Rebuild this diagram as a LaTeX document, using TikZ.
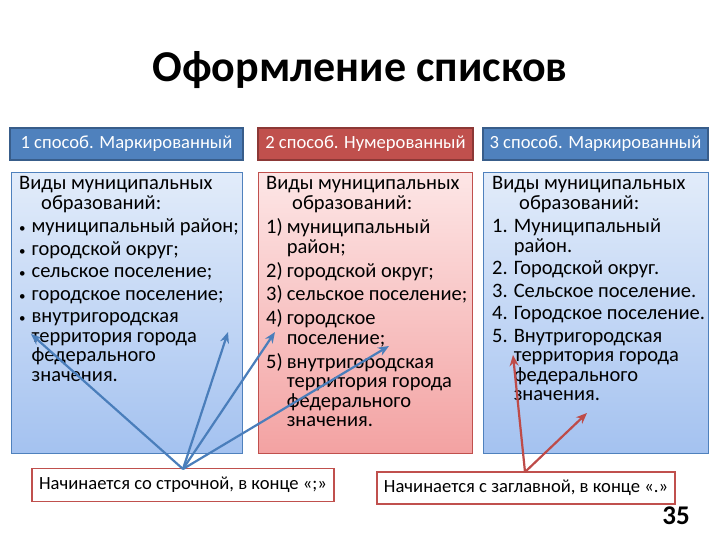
\documentclass[tikz,border=0pt]{standalone}
\usepackage{fontspec}
\setmainfont{Carlito}
\usetikzlibrary{arrows.meta}
\definecolor{hblue}{HTML}{4F81BD}
\definecolor{hbluedark}{HTML}{385D8A}
\definecolor{hred}{HTML}{C0504D}
\definecolor{hreddark}{HTML}{8C3836}
\definecolor{bltop}{HTML}{E2ECFA}
\definecolor{blbot}{HTML}{A4C2F0}
\definecolor{rdtop}{HTML}{FDE6E6}
\definecolor{rdbot}{HTML}{F3A2A2}
\definecolor{arrblue}{HTML}{4A7EBB}
\definecolor{arrred}{HTML}{BE4B48}
\newcommand{\sbul}{{\fontsize{13}{13}\selectfont\textbullet}}
\tikzset{
  hdr/.style={draw=#1, line width=1.5pt, minimum height=32pt, inner sep=0pt, text=white, font=\fontsize{18.6}{20}\selectfont},
  cbox/.style={draw=#1, line width=1pt},
  ctext/.style={anchor=north west, inner sep=0pt, align=left, font=\fontsize{20.5}{19.5}\selectfont},
  note/.style={draw=hred, line width=1.6pt, fill=white, inner sep=0pt, font=\fontsize{18.6}{20}\selectfont},
  barr/.style={draw=arrblue, line width=2.2pt, -{Stealth[length=11pt,width=9pt]}},
  rarr/.style={draw=arrred, line width=2.2pt, -{Stealth[length=11pt,width=9pt]}}
}
\begin{document}
\begin{tikzpicture}[x=1pt,y=-1pt]
\useasboundingbox (0,0) rectangle (720,540);
\node (title) at (360,70) {\fontsize{44}{48}\selectfont\bfseries Оформление списков};

\node[hdr=hbluedark, fill=hblue, minimum width=233pt] (h1) at (126.5,144) {1 способ. Маркированный};
\node[hdr=hreddark, fill=hred, minimum width=215pt] (h2) at (365.5,144) {2 способ. Нумерованный};
\node[hdr=hbluedark, fill=hblue, minimum width=225pt] (h3) at (595.5,144) {3 способ. Маркированный};

\shade[top color=bltop, bottom color=blbot] (11,173) rectangle (242,453);
\draw[cbox=hblue] (11,173) rectangle (242,453);
\shade[top color=rdtop, bottom color=rdbot] (258,173) rectangle (472,453);
\draw[cbox=hred] (258,173) rectangle (472,453);
\shade[top color=bltop, bottom color=blbot] (483,173) rectangle (708,453);
\draw[cbox=hblue] (483,173) rectangle (708,453);

\node[ctext] (t1) at (19,176) {%
\begin{tabular}{@{}l@{\hspace{6pt}}l@{}}
\multicolumn{2}{@{}l@{}}{Виды муниципальных}\\
\multicolumn{2}{@{}l@{}}{\hspace{22pt}образований:}\\[3pt]
\sbul & муниципальный район;\\[3pt]
\sbul & городской округ;\\[3pt]
\sbul & сельское поселение;\\[3pt]
\sbul & городское поселение;\\[3pt]
\sbul & внутригородская\\
 & территория города\\
 & федерального\\
 & значения.
\end{tabular}};

\node[ctext] (t2) at (266,176) {%
\begin{tabular}{@{}l@{\hspace{4pt}}l@{}}
\multicolumn{2}{@{}l@{}}{Виды муниципальных}\\
\multicolumn{2}{@{}l@{}}{\hspace{26pt}образований:}\\[3pt]
1) & муниципальный\\
 & район;\\[3pt]
2) & городской округ;\\[3pt]
3) & сельское поселение;\\[3pt]
4) & городское\\
 & поселение;\\[3pt]
5) & внутригородская\\
 & территория города\\
 & федерального\\
 & значения.
\end{tabular}};

\node[ctext] (t3) at (492,176) {%
\begin{tabular}{@{}l@{\hspace{6pt}}l@{}}
\multicolumn{2}{@{}l@{}}{Виды муниципальных}\\
\multicolumn{2}{@{}l@{}}{\hspace{27pt}образований:}\\[3pt]
1. & Муниципальный\\
 & район.\\[3pt]
2. & Городской округ.\\[3pt]
3. & Сельское поселение.\\[3pt]
4. & Городское поселение.\\[3pt]
5. & Внутригородская\\
 & территория города\\
 & федерального\\
 & значения.
\end{tabular}};

\node[note, minimum width=302pt, minimum height=33pt] (n1) at (183,485) {Начинается со строчной, в конце «;»};
\node[note, minimum width=298pt, minimum height=32pt] (n2) at (526,488) {Начинается с заглавной, в конце «.»};

\coordinate (b1) at (31,334);
\coordinate (b2) at (228,332);
\coordinate (b3) at (275,332);
\coordinate (b4) at (389,346);
\coordinate (r1) at (513,355);
\coordinate (r2) at (587,413);
\coordinate (bs) at (183,469);
\coordinate (rs) at (525,472);
\draw[barr] (bs) -- (b1);
\draw[barr] (bs) -- (b2);
\draw[barr] (bs) -- (b3);
\draw[barr] (bs) -- (b4);
\draw[rarr] (rs) -- (r1);
\draw[rarr] (rs) -- (r2);

\node (num) at (676,516) {\fontsize{27}{30}\selectfont\bfseries 35};
\end{tikzpicture}
\end{document}
